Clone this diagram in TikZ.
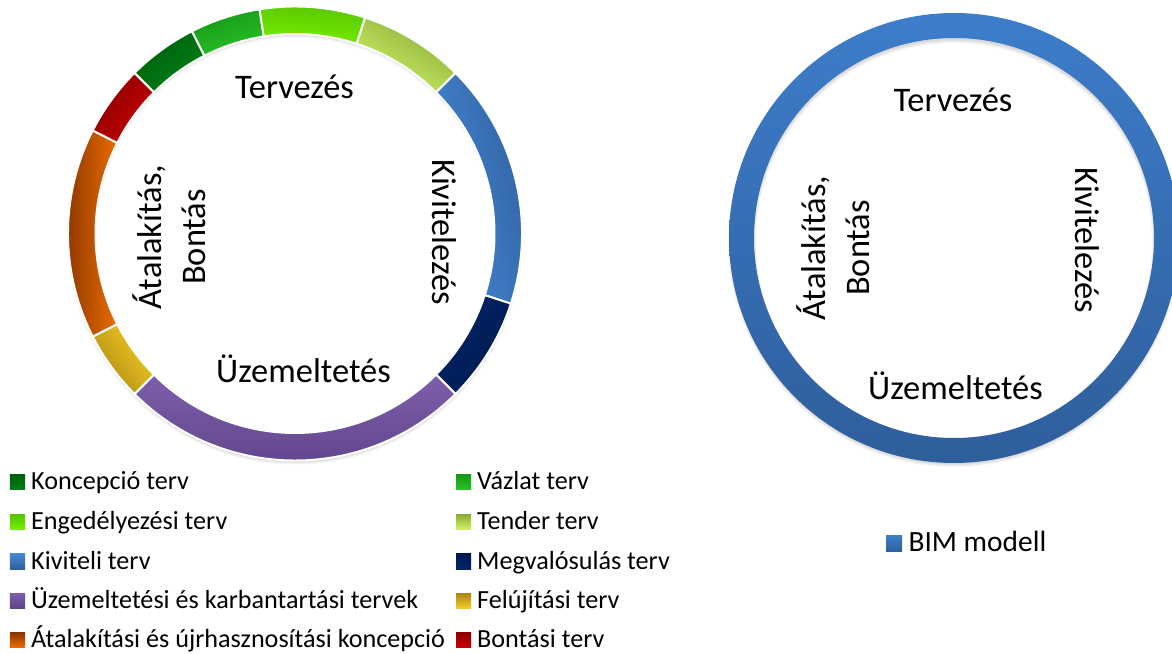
\documentclass[tikz,border=0pt]{standalone}
\usepackage{fontspec}
\setmainfont{Carlito}
\usetikzlibrary{positioning}
\definecolor{KonD}{HTML}{005E0E}
\definecolor{KonL}{HTML}{008016}
\definecolor{VazD}{HTML}{179618}
\definecolor{VazL}{HTML}{28C428}
\definecolor{EngD}{HTML}{58C400}
\definecolor{EngL}{HTML}{76F000}
\definecolor{TenD}{HTML}{8AAA3A}
\definecolor{TenL}{HTML}{CFF566}
\definecolor{KivD}{HTML}{2F5F9C}
\definecolor{KivL}{HTML}{4688D6}
\definecolor{MegD}{HTML}{001A4E}
\definecolor{MegL}{HTML}{002468}
\definecolor{UzeD}{HTML}{5D4286}
\definecolor{UzeL}{HTML}{7E5EAC}
\definecolor{FelD}{HTML}{AC8810}
\definecolor{FelL}{HTML}{F6CE26}
\definecolor{AtaD}{HTML}{863200}
\definecolor{AtaL}{HTML}{EA6C00}
\definecolor{BonD}{HTML}{880000}
\definecolor{BonL}{HTML}{CA0000}
\definecolor{BimT}{HTML}{3D7DCA}
\definecolor{BimB}{HTML}{2F5E9C}

\begin{document}
\begin{tikzpicture}[
    x=0.025cm, y=0.025cm,
    seg/.style={draw=white, line width=1.4pt},
    shad/.style={black, opacity=0.04, even odd rule},
    lbl/.style={font=\fontsize{24.5}{31.5}\selectfont, inner sep=0pt},
    key/.style={minimum size=0.375cm, inner sep=0pt},
    keytxt/.style={font=\fontsize{18.6}{21}\selectfont, inner sep=0pt, anchor=base west}
]
\useasboundingbox (0,0) rectangle (1172,653);

% Left doughnut: lifecycle plans
\begin{scope}[shift={(295,419.5)}]
\foreach \s in {1,2,3,4} {
    \fill[shad] (0,-3) circle (224+\s) (0,-3) circle (203-\s);
}
\foreach \a/\b/\cd/\cl in {135/117/KonD/KonL, 117/99/VazD/VazL, 99/72/EngD/EngL,
    72/45/TenD/TenL, 45/-18/KivD/KivL, -18/-45/MegD/MegL, -45/-135/UzeD/UzeL,
    225/207/FelD/FelL, 207/153/AtaD/AtaL, 153/135/BonD/BonL} {
    \pgfmathsetmacro\sang{(\a+\b)/2-90}
    \shade[seg, top color=\cd, bottom color=\cl, shading angle=\sang]
        (\a:227) arc[start angle=\a, end angle=\b, radius=227]
        -- (\b:199.5) arc[start angle=\b, end angle=\a, radius=199.5] -- cycle;
}
\end{scope}

\node[lbl, anchor=base] (lterv) at (294.5,554) {Tervezés};
\node[lbl, anchor=base] (luzem) at (303.5,270) {Üzemeltetés};
\node[lbl, anchor=base, rotate=-90] (lkiv) at (432,421) {Kivitelezés};
\node[lbl, align=center, rotate=90] (lata) at (169,416) {Átalakítás,\\Bontás};

% Right doughnut: BIM model
\begin{scope}[shift={(954,415)}]
\foreach \s in {1,2,3,4} {
    \fill[shad] (0,-3) circle (222+\s) (0,-3) circle (202-\s);
}
\shade[top color=BimT, bottom color=BimB, even odd rule] (0,0) circle (225) (0,0) circle (200);
\end{scope}

\node[lbl, anchor=base] (rterv) at (953,541) {Tervezés};
\node[lbl, anchor=base] (ruzem) at (955.5,253) {Üzemeltetés};
\node[lbl, anchor=base, rotate=-90] (rkiv) at (1075,413) {Kivitelezés};
\node[lbl, align=center, rotate=90] (rata) at (833,405) {Átalakítás,\\Bontás};

% Legend
\foreach \n/\x/\y/\cd/\cl/\t in {
    1/17.5/171/KonD/KonL/Koncepció terv,
    2/463.5/171/VazD/VazL/Vázlat terv,
    3/17.5/131/EngD/EngL/Engedélyezési terv,
    4/463.5/131/TenD/TenL/Tender terv,
    5/17.5/91.5/KivL/KivD/Kiviteli terv,
    6/463.5/91.5/MegD/MegL/Megvalósulás terv,
    7/17.5/52/UzeL/UzeD/Üzemeltetési és karbantartási tervek,
    8/463.5/52/FelD/FelL/Felújítási terv,
    9/17.5/13.5/AtaD/AtaL/Átalakítási és újrhasznosítási koncepció,
    10/463.5/13.5/BonD/BonL/Bontási terv} {
    \node[key, top color=\cd, bottom color=\cl] (k\n) at (\x,\y) {};
    \node[keytxt] (t\n) at ([xshift=0.14cm]k\n.south east) {\t};
}

\node[key, minimum size=0.4cm, top color=BimT, bottom color=BimB] (kbim) at (894,109.5) {};
\node[keytxt, font=\fontsize{20.9}{24}\selectfont] (tbim) at ([xshift=0.15cm]kbim.south east) {BIM modell};
\end{tikzpicture}
\end{document}
